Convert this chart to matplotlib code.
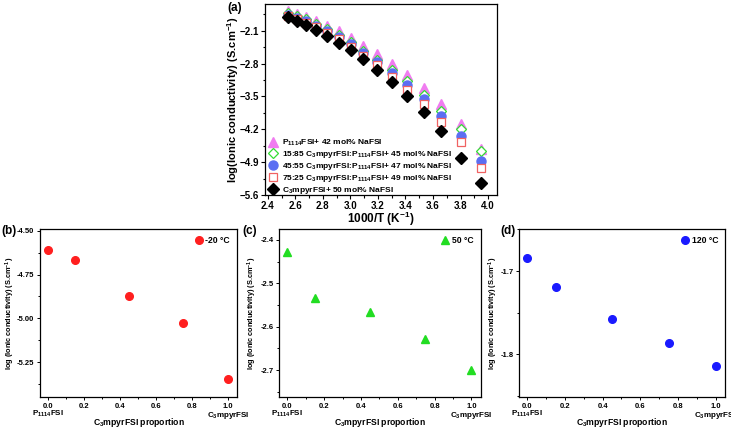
import numpy as np
import matplotlib
matplotlib.use('Agg')
import matplotlib.pyplot as plt
from matplotlib.ticker import MultipleLocator, AutoMinorLocator
import matplotlib.transforms as mtransforms

plt.rcParams['font.family'] = ['Liberation Sans', 'DejaVu Sans']
plt.rcParams['font.weight'] = 'bold'
plt.rcParams['mathtext.fontset'] = 'custom'
plt.rcParams['mathtext.bf'] = 'Liberation Sans:bold'
plt.rcParams['mathtext.rm'] = 'Liberation Sans:bold'
plt.rcParams['mathtext.default'] = 'bf'

# データ (a): 1000/T
inv_T = [2.544, 2.610, 2.680, 2.754, 2.832, 2.914, 3.002, 3.095,
         3.193, 3.299, 3.411, 3.532, 3.661, 3.800, 3.950]
p1114 = [-1.68, -1.74, -1.81, -1.89, -1.99, -2.11, -2.25, -2.43,
         -2.60, -2.81, -3.04, -3.33, -3.66, -4.08, -4.61]
mix_15_85 = [-1.72, -1.78, -1.86, -1.95, -2.06, -2.19, -2.35, -2.53,
             -2.72, -2.94, -3.17, -3.47, -3.81, -4.19, -4.67]
mix_45_55 = [-1.76, -1.82, -1.90, -1.99, -2.10, -2.23, -2.39, -2.57,
             -2.77, -3.00, -3.26, -3.55, -3.91, -4.34, -4.87]
mix_75_25 = [-1.79, -1.86, -1.94, -2.03, -2.14, -2.28, -2.44, -2.63,
             -2.84, -3.08, -3.36, -3.67, -4.04, -4.48, -5.03]
c3mpyr = [-1.81, -1.89, -1.98, -2.09, -2.21, -2.36, -2.52, -2.70,
          -2.93, -3.20, -3.50, -3.83, -4.23, -4.81, -5.35]

labels_a = [r'P$_{1114}$FSI+ 42 mol% NaFSI',
            r'15:85 C$_3$mpyrFSI:P$_{1114}$FSI+ 45 mol% NaFSI',
            r'45:55 C$_3$mpyrFSI:P$_{1114}$FSI+ 47 mol% NaFSI',
            r'75:25 C$_3$mpyrFSI:P$_{1114}$FSI+ 49 mol% NaFSI',
            r'C$_3$mpyrFSI+ 50 mol% NaFSI']

# データ (b)(c)(d): 組成比
proportion = [0.0, 0.15, 0.45, 0.75, 1.0]
cond_m20 = [-4.609, -4.669, -4.870, -5.026, -5.346]
cond_50 = [-2.429, -2.534, -2.567, -2.629, -2.699]
cond_120 = [-1.684, -1.719, -1.758, -1.786, -1.814]

fig = plt.figure(figsize=(7.31, 4.28), dpi=100)

# ---- (a) ----
ax = fig.add_axes([0.3625, 0.5444, 0.3174, 0.4463])
ax.plot(inv_T, p1114, ls='none', marker='^', ms=7, color='#f07cf0', mec='#f07cf0', label=labels_a[0])
ax.plot(inv_T, mix_15_85, ls='none', marker='D', ms=5.5, mfc='white', mec='#33dd33', mew=0.9, label=labels_a[1])
ax.plot(inv_T, mix_45_55, ls='none', marker='o', ms=6.5, color='#5b6ef2', label=labels_a[2])
ax.plot(inv_T, mix_75_25, ls='none', marker='s', ms=5.5, mfc='white', mec='#f06262', mew=0.9, label=labels_a[3])
ax.plot(inv_T, c3mpyr, ls='none', marker='D', ms=6, color='black', label=labels_a[4])

ax.set_xlim(2.38, 4.065)
ax.set_ylim(-5.6, -1.53)
ax.xaxis.set_major_locator(MultipleLocator(0.2))
ax.yaxis.set_major_locator(MultipleLocator(0.7))
ax.xaxis.set_minor_locator(AutoMinorLocator(2))
ax.yaxis.set_minor_locator(AutoMinorLocator(2))
ax.tick_params(which='both', direction='out', labelsize=7, width=0.8)
ax.tick_params(which='major', length=3, pad=1.0)
ax.tick_params(which='minor', length=1.8)
ax.set_xlabel(r'1000/T (K$^{-1}$)', fontsize=8.5, fontweight='bold')
ax.set_ylabel(r'log(Ionic conductivity) (S.cm$^{-1}$)', fontsize=8, fontweight='bold')
ax.xaxis.label.set_va('center')
ax.yaxis.label.set_va('center')
ax.xaxis.set_label_coords(0.5, -0.125)
ax.yaxis.set_label_coords(-0.138, 0.5)
ax.legend(loc='lower left', frameon=False, fontsize=6, handletextpad=0.3,
          labelspacing=0.12, borderaxespad=0.0, handlelength=1.5,
          borderpad=0.2, bbox_to_anchor=(0.0, -0.012))
for s in ax.spines.values():
    s.set_linewidth(0.9)
fig.text(227 / 731, 1 - 8 / 428, '(a)', fontsize=8.5, fontweight='bold', va='center')

# ---- (b)(c)(d) ----
panels = [
    ([0.0547, 0.0724, 0.2695, 0.3926], cond_m20, 'o', '#ff1f1f', '-20 °C',
     (-5.449, -4.49), 0.25, '%.2f', '(b)', 1, -0.152),
    ([0.3821, 0.0724, 0.2755, 0.3926], cond_50, '^', '#22dd22', '50 °C',
     (-2.762, -2.375), 0.1, '%.1f', '(c)', 242, -0.135),
    ([0.7104, 0.0724, 0.2814, 0.3926], cond_120, 'o', '#1a1aff', '120 °C',
     (-1.851, -1.6496), 0.1, '%.1f', '(d)', 500, -0.125),
]

for rect, yv, mk, col, lab, ylim, ystep, fmt, tag, tag_x, ylab_x in panels:
    ax = fig.add_axes(rect)
    ax.plot(proportion, yv, ls='none', marker=mk, ms=5.5, color=col, label=lab)
    ax.set_xlim(-0.043, 1.05)
    ax.set_ylim(*ylim)
    ax.xaxis.set_major_locator(MultipleLocator(0.2))
    ax.xaxis.set_minor_locator(AutoMinorLocator(2))
    ax.yaxis.set_major_locator(MultipleLocator(ystep))
    ax.yaxis.set_minor_locator(AutoMinorLocator(2))
    ax.yaxis.set_major_formatter(plt.FormatStrFormatter(fmt))
    ax.tick_params(which='both', direction='out', labelsize=5.5, width=0.7)
    ax.tick_params(which='major', length=2.5, pad=1.5)
    ax.tick_params(which='minor', length=1.5)
    for s in ax.spines.values():
        s.set_linewidth(0.9)
    ax.set_ylabel(r'log (Ionic conductivity) (S.cm$^{-1}$)', fontsize=5.3, fontweight='bold')
    ax.set_xlabel(r'C$_3$mpyrFSI proportion', fontsize=6.2, fontweight='bold')
    ax.xaxis.label.set_va('center')
    ax.yaxis.label.set_va('center')
    ax.xaxis.set_label_coords(0.5, -0.149)
    ax.yaxis.set_label_coords(ylab_x, 0.5)
    ax.legend(loc='upper right', frameon=False, fontsize=6.2, handletextpad=0.2,
              borderaxespad=0.4, handlelength=1.2)
    # 両端の組成ラベル
    trans = mtransforms.blended_transform_factory(ax.transData, ax.transAxes)
    ax.text(0.0, -0.101, r'P$_{1114}$FSI', transform=trans, fontsize=5.8,
            fontweight='bold', ha='center', va='center')
    ax.text(1.0, -0.108, r'C$_3$mpyrFSI', transform=trans, fontsize=5.8,
            fontweight='bold', ha='center', va='center')
    fig.text(tag_x / 731, 1 - 231 / 428, tag, fontsize=8.5, fontweight='bold', va='center')

plt.savefig('out.png', dpi=100)
